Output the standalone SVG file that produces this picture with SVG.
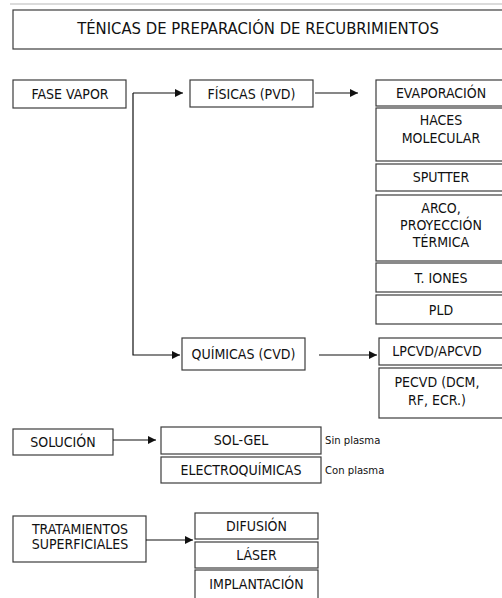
<svg xmlns="http://www.w3.org/2000/svg" width="502" height="598" viewBox="0 0 502 598">
  <style>
    .box { fill: #ffffff; stroke: #3c3c3c; stroke-width: 1.2; }
    .lbl { font-family: "DejaVu Sans Condensed", "DejaVu Sans", sans-serif; font-size: 14px; fill: #111; text-anchor: middle; }
    .note { font-family: "DejaVu Sans Condensed", "DejaVu Sans", sans-serif; font-size: 11.2px; fill: #111; }
    .title { font-family: "DejaVu Sans Condensed", "DejaVu Sans", sans-serif; font-size: 16.5px; fill: #111; text-anchor: middle; }
    .wire { fill: none; stroke: #111; stroke-width: 1.2; }
  </style>
  <defs>
    <marker id="arrow" viewBox="0 0 10 10" refX="10" refY="5" markerWidth="8" markerHeight="8" markerUnits="userSpaceOnUse" orient="auto">
      <path d="M0,0 L10,5 L0,10 Z" fill="#111"/>
    </marker>
  </defs>

  <rect width="502" height="598" fill="#ffffff"/>
  <line x1="10" y1="4" x2="502" y2="4" stroke="#cfcfcf" stroke-width="1.5"/>

  <g id="title">
    <rect class="box" x="13" y="10" width="495" height="39"/>
    <text class="title" x="258" y="34">TÉNICAS DE PREPARACIÓN DE RECUBRIMIENTOS</text>
  </g>

  <g id="fase-vapor">
    <rect class="box" x="13" y="80" width="113" height="28"/>
    <text class="lbl" x="70" y="99">FASE VAPOR</text>
  </g>
  <g id="fisicas">
    <rect class="box" x="190" y="80" width="123" height="27"/>
    <text class="lbl" x="251.5" y="98.5">FÍSICAS (PVD)</text>
  </g>
  <g id="evaporacion">
    <rect class="box" x="376" y="80" width="130" height="26"/>
    <text class="lbl" x="441" y="98">EVAPORACIÓN</text>
  </g>
  <g id="haces">
    <rect class="box" x="376" y="108" width="130" height="53"/>
    <text class="lbl" x="441" y="125">HACES</text>
    <text class="lbl" x="441" y="143">MOLECULAR</text>
  </g>
  <g id="sputter">
    <rect class="box" x="376" y="164" width="130" height="27"/>
    <text class="lbl" x="441" y="182">SPUTTER</text>
  </g>
  <g id="arco">
    <rect class="box" x="376" y="195" width="130" height="66"/>
    <text class="lbl" x="441" y="213">ARCO,</text>
    <text class="lbl" x="441" y="230">PROYECCIÓN</text>
    <text class="lbl" x="441" y="247">TÉRMICA</text>
  </g>
  <g id="iones">
    <rect class="box" x="376" y="263" width="130" height="29"/>
    <text class="lbl" x="441" y="283">T. IONES</text>
  </g>
  <g id="pld">
    <rect class="box" x="376" y="295" width="130" height="29"/>
    <text class="lbl" x="441" y="314.5">PLD</text>
  </g>

  <g id="quimicas">
    <rect class="box" x="182" y="338" width="123" height="32"/>
    <text class="lbl" x="243.5" y="359">QUÍMICAS (CVD)</text>
  </g>
  <g id="lpcvd">
    <rect class="box" x="379" y="338" width="127" height="27"/>
    <text class="lbl" x="437" y="356">LPCVD/APCVD</text>
  </g>
  <g id="pecvd">
    <rect class="box" x="379" y="368" width="127" height="50"/>
    <text class="lbl" x="437" y="387">PECVD (DCM,</text>
    <text class="lbl" x="437" y="405">RF, ECR.)</text>
  </g>

  <g id="solucion">
    <rect class="box" x="13" y="429" width="100" height="26"/>
    <text class="lbl" x="63" y="446.5">SOLUCIÓN</text>
  </g>
  <g id="sol-gel">
    <rect class="box" x="161" y="427" width="160" height="27"/>
    <text class="lbl" x="241" y="445">SOL-GEL</text>
    <text class="note" x="325" y="444">Sin plasma</text>
  </g>
  <g id="electroquimicas">
    <rect class="box" x="161" y="457" width="160" height="26"/>
    <text class="lbl" x="241" y="475">ELECTROQUÍMICAS</text>
    <text class="note" x="325" y="474">Con plasma</text>
  </g>

  <g id="tratamientos">
    <rect class="box" x="13" y="516" width="133" height="46"/>
    <text class="lbl" x="80" y="534">TRATAMIENTOS</text>
    <text class="lbl" x="80" y="549">SUPERFICIALES</text>
  </g>
  <g id="difusion">
    <rect class="box" x="195" y="513" width="123" height="26"/>
    <text class="lbl" x="256.5" y="531">DIFUSIÓN</text>
  </g>
  <g id="laser">
    <rect class="box" x="195" y="542" width="123" height="26"/>
    <text class="lbl" x="256.5" y="560">LÁSER</text>
  </g>
  <g id="implantacion">
    <rect class="box" x="195" y="570" width="123" height="32"/>
    <text class="lbl" x="256.5" y="589">IMPLANTACIÓN</text>
  </g>

  <g id="connectors">
    <path class="wire" d="M133,93 H183" marker-end="url(#arrow)"/>
    <path class="wire" d="M133,93 V355 H180" marker-end="url(#arrow)"/>
    <path class="wire" d="M315,93 H358" marker-end="url(#arrow)"/>
    <path class="wire" d="M319,355 H377" marker-end="url(#arrow)"/>
    <path class="wire" d="M113,440 H156" marker-end="url(#arrow)"/>
    <path class="wire" d="M146,540 H193" marker-end="url(#arrow)"/>
  </g>
</svg>
